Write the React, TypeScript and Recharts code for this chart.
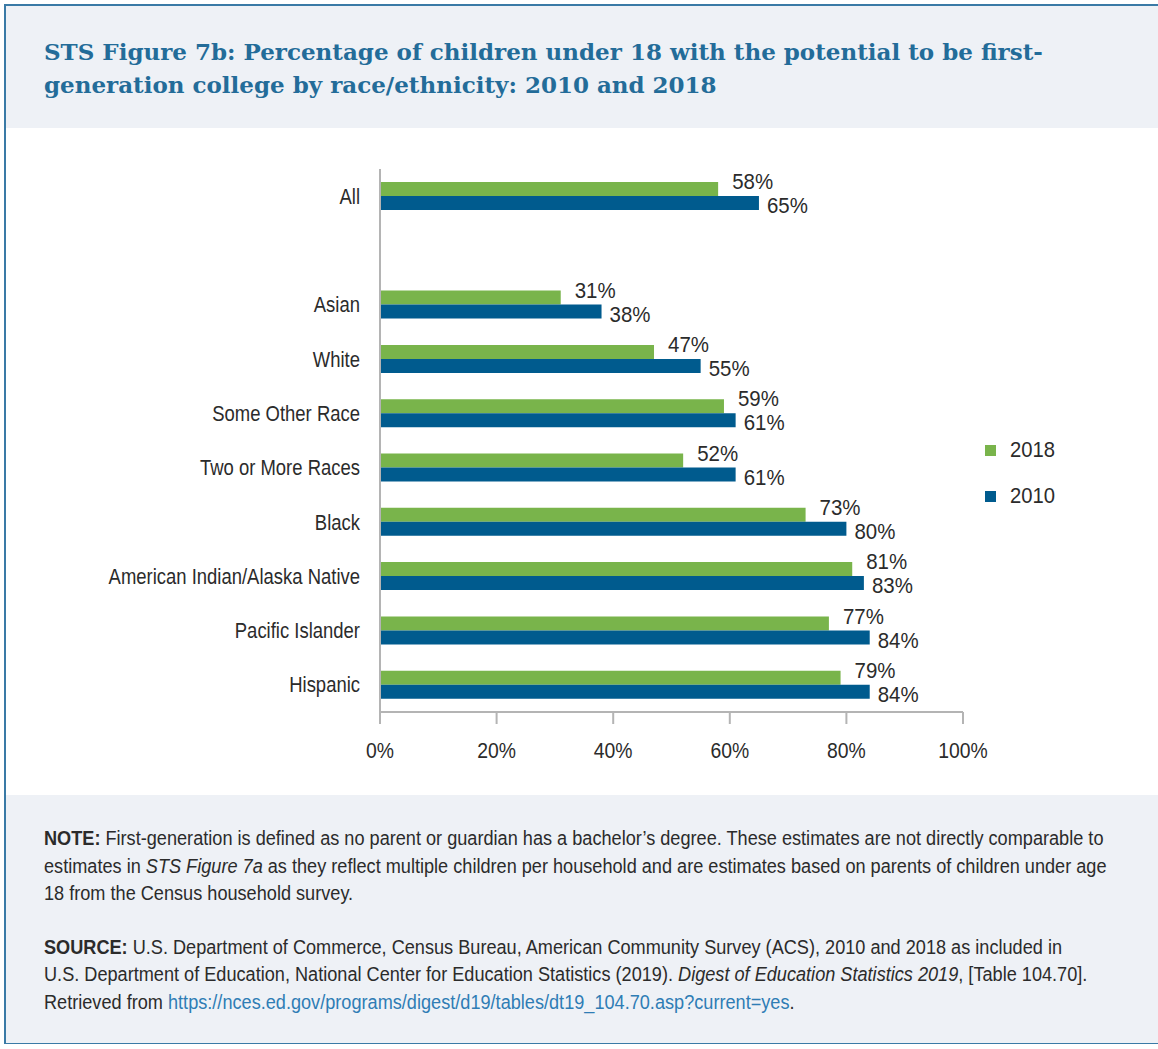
import { BarChart, Bar, XAxis, YAxis, Legend, LabelList } from 'recharts';

// categories top to bottom; the blank slot makes the gap under "All"
const categories = [
  'All',
  '',
  'Asian',
  'White',
  'Some Other Race',
  'Two or More Races',
  'Black',
  'American Indian/Alaska Native',
  'Pacific Islander',
  'Hispanic',
];
const values2018 = [58, null, 31, 47, 59, 52, 73, 81, 77, 79];
const values2010 = [65, null, 38, 55, 61, 61, 80, 83, 84, 84];
const xTicks = [0, 20, 40, 60, 80, 100];

const GREEN = '#79b44b';
const BLUE = '#005b8e';
// no narrow font installed, so Liberation Sans gets squeezed horizontally
const SANS = '"Liberation Sans", Arial, sans-serif';
const TEXT = '#2b2b2b';

const data = categories.map((name, i) => ({
  name,
  y2018: values2018[i],
  y2010: values2010[i],
}));

function NarrowText({ x, y, anchor = 'start', size = 22, squeeze = 0.84, children }: any) {
  return (
    <text
      transform={`translate(${x},${y}) scale(${squeeze},1)`}
      textAnchor={anchor}
      dominantBaseline="central"
      fontSize={size}
      fontFamily={SANS}
      fill={TEXT}
    >
      {children}
    </text>
  );
}

function BarLabel(props: any) {
  const { x, y, width, height, value, dx, dy } = props;
  if (value == null) return null;
  return (
    <NarrowText x={Number(x) + Number(width) + dx} y={Number(y) + Number(height) / 2 + dy} size={22} squeeze={0.93}>
      {value}%
    </NarrowText>
  );
}

function XTick(props: any) {
  const { x, y, payload } = props;
  return (
    <NarrowText x={x} y={y + 8} anchor="middle" size={22} squeeze={0.88}>
      {payload.value}%
    </NarrowText>
  );
}

function YTick(props: any) {
  const { x, y, payload } = props;
  return (
    <NarrowText x={x} y={y} anchor="end" size={22} squeeze={0.84}>
      {payload.value}
    </NarrowText>
  );
}

function LegendBox(props: any) {
  const items = [...(props.payload || [])].sort((a: any, b: any) => Number(b.value) - Number(a.value));
  return (
    <div>
      {items.map((p: any) => (
        <div key={p.value} style={{ display: 'flex', alignItems: 'center', height: 46 }}>
          <span style={{ width: 11, height: 11, background: p.color, marginRight: 14 }} />
          <span
            style={{
              fontFamily: SANS,
              fontSize: 22,
              color: TEXT,
              display: 'inline-block',
              transform: 'scaleX(0.92)',
              transformOrigin: 'left center',
            }}
          >
            {p.value}
          </span>
        </div>
      ))}
    </div>
  );
}

const noteStyle = {
  display: 'inline-block',
  transform: 'scaleX(0.93)',
  transformOrigin: 'left top',
  whiteSpace: 'nowrap' as const,
};

export default function App() {
  return (
    <div style={{ position: 'absolute', left: 0, top: 0, width: 1158, height: 1049, overflow: 'hidden', background: '#fff' }}>
      <div
        style={{
          position: 'absolute',
          left: 4,
          top: 4,
          width: 1170,
          height: 1040,
          border: '2px solid #3a7aa6',
          boxSizing: 'border-box',
        }}
      />
      {/* title band */}
      <div style={{ position: 'absolute', left: 6, top: 6, width: 1160, height: 122, background: '#eef1f6' }} />
      <div
        style={{
          position: 'absolute',
          left: 44,
          top: 35,
          fontFamily: '"DejaVu Serif", serif',
          fontWeight: 'bold',
          fontSize: 23,
          lineHeight: '33px',
          color: '#236c99',
          whiteSpace: 'nowrap',
        }}
      >
        STS Figure 7b: Percentage of children under 18 with the potential to be first-
        <br />
        generation college by race/ethnicity: 2010 and 2018
      </div>

      <div style={{ position: 'absolute', left: 0, top: 128 }}>
        <BarChart
          width={1158}
          height={667}
          data={data}
          layout="vertical"
          barGap={0}
          barSize={14}
          margin={{ top: 41, right: 195, bottom: 23, left: 0 }}
        >
          <XAxis
            type="number"
            domain={[0, 100]}
            ticks={xTicks}
            axisLine={{ stroke: '#b4b4b4', strokeWidth: 2 }}
            tickLine={{ stroke: '#b4b4b4', strokeWidth: 2 }}
            tickSize={12}
            tickMargin={18}
            height={60}
            tick={<XTick />}
          />
          <YAxis
            type="category"
            dataKey="name"
            width={380}
            axisLine={{ stroke: '#b4b4b4', strokeWidth: 2 }}
            tickLine={false}
            tickSize={0}
            tickMargin={20}
            interval={0}
            tick={<YTick />}
          />
          <Legend
            layout="vertical"
            align="center"
            verticalAlign="middle"
            content={<LegendBox />}
            wrapperStyle={{ left: 985, top: 299, width: 120 }}
          />
          <Bar dataKey="y2018" name="2018" fill={GREEN} isAnimationActive={false}>
            <LabelList dataKey="y2018" content={(p: any) => <BarLabel {...p} dx={14} dy={-7} />} />
          </Bar>
          <Bar dataKey="y2010" name="2010" fill={BLUE} isAnimationActive={false}>
            <LabelList dataKey="y2010" content={(p: any) => <BarLabel {...p} dx={8} dy={3} />} />
          </Bar>
        </BarChart>
      </div>

      {/* note band */}
      <div style={{ position: 'absolute', left: 6, top: 795, width: 1160, height: 248, background: '#eef1f6' }} />
      <div
        style={{
          position: 'absolute',
          left: 44,
          top: 825,
          fontFamily: SANS,
          fontSize: 19.5,
          lineHeight: '27.5px',
          color: TEXT,
        }}
      >
        <div style={noteStyle}>
          <b>NOTE:</b> First-generation is defined as no parent or guardian has a bachelor’s degree. These estimates are not directly comparable to
          <br />
          estimates in <i>STS Figure 7a</i> as they reflect multiple children per household and are estimates based on parents of children under age
          <br />
          18 from the Census household survey.
        </div>
        <div style={{ height: 26 }} />
        <div style={noteStyle}>
          <b>SOURCE:</b> U.S. Department of Commerce, Census Bureau, American Community Survey (ACS), 2010 and 2018 as included in
          <br />
          U.S. Department of Education, National Center for Education Statistics (2019). <i>Digest of Education Statistics 2019</i>, [Table 104.70].
          <br />
          Retrieved from <span style={{ color: '#2f7db5' }}>https://nces.ed.gov/programs/digest/d19/tables/dt19_104.70.asp?current=yes</span>.
        </div>
      </div>
    </div>
  );
}
